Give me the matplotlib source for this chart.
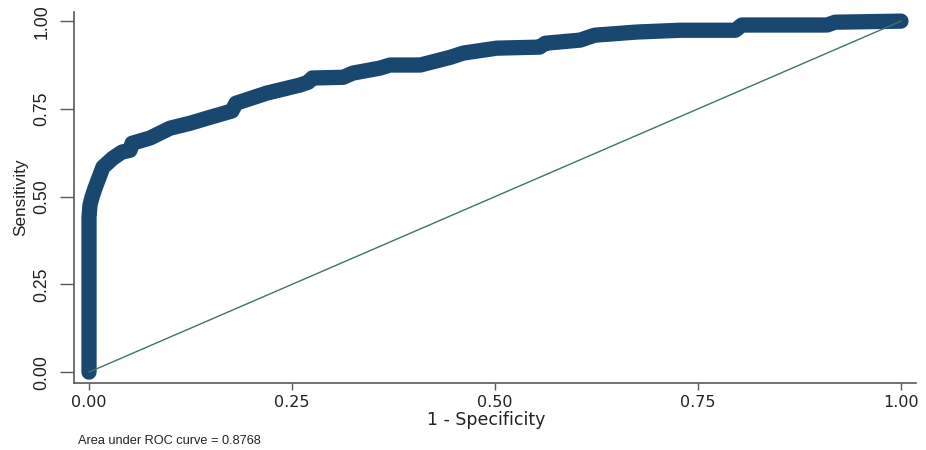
import matplotlib
matplotlib.use("Agg")
import matplotlib.pyplot as plt

# ROC points (1 - specificity, sensitivity)
fpr = [0.0, 0.0, 0.0012, 0.0037, 0.0074, 0.0111, 0.0172, 0.0296, 0.0406,
       0.0505, 0.053, 0.0751, 0.0998, 0.1244, 0.149, 0.176, 0.181, 0.219,
       0.260, 0.270, 0.275, 0.313, 0.325, 0.358, 0.371, 0.408, 0.445, 0.461,
       0.502, 0.555, 0.562, 0.605, 0.615, 0.623, 0.675, 0.728, 0.796, 0.804,
       0.909, 0.919, 1.0]
tpr = [0.0, 0.4416, 0.476, 0.4986, 0.524, 0.547, 0.584, 0.610, 0.627,
       0.632, 0.652, 0.667, 0.695, 0.709, 0.726, 0.744, 0.766, 0.795,
       0.818, 0.826, 0.838, 0.840, 0.852, 0.866, 0.875, 0.875, 0.897, 0.909,
       0.923, 0.926, 0.937, 0.946, 0.954, 0.960, 0.969, 0.974, 0.974, 0.989,
       0.989, 0.997, 1.0]
ref_line = [0.0, 1.0]
ticks = [0.0, 0.25, 0.5, 0.75, 1.0]
tick_labels = ["0.00", "0.25", "0.50", "0.75", "1.00"]
auc = 0.8768

plt.rcParams["font.family"] = ["Liberation Sans", "DejaVu Sans"]
txt = "#222222"
axis_col = "#5a5a5a"

fig = plt.figure(figsize=(9.26, 4.5), dpi=100)
ax = fig.add_axes([0.0799, 0.1489, 0.9093, 0.8244])

ax.plot(fpr, tpr, color="#1a476f", linewidth=11,
        solid_capstyle="round", solid_joinstyle="round", zorder=2)
ax.plot(ref_line, ref_line, color="#3d7467", linewidth=1.0, zorder=3)

ax.set_xlim(-0.0185, 1.0185)
ax.set_ylim(-0.031, 1.026)

ax.spines["top"].set_visible(False)
ax.spines["right"].set_visible(False)
for s in ["left", "bottom"]:
    ax.spines[s].set_color(axis_col)
    ax.spines[s].set_linewidth(1.2)

ax.set_xticks(ticks)
ax.set_xticklabels(tick_labels, fontsize=11.5, family="DejaVu Sans", color=txt)
ax.set_yticks(ticks)
ax.set_yticklabels(tick_labels, fontsize=12.7, color=txt,
                   rotation=90, va="center")
ax.tick_params(axis="x", direction="out", length=5, width=1,
               color=axis_col, pad=4)
ax.tick_params(axis="y", direction="out", length=10, width=1,
               color=axis_col, pad=7)

ax.set_xlabel("1 - Specificity", fontsize=12.5, family="DejaVu Sans",
              color=txt)
ax.xaxis.set_label_coords(0.49, -0.076)
ax.set_ylabel("Sensitivity", fontsize=12.3, color=txt)
ax.yaxis.set_label_coords(-0.0546, 0.5)

fig.text(0.084, 0.0135, f"Area under ROC curve = {auc:.4f}",
         fontsize=9.2, color=txt, va="baseline")

fig.savefig("out.png", dpi=100)
